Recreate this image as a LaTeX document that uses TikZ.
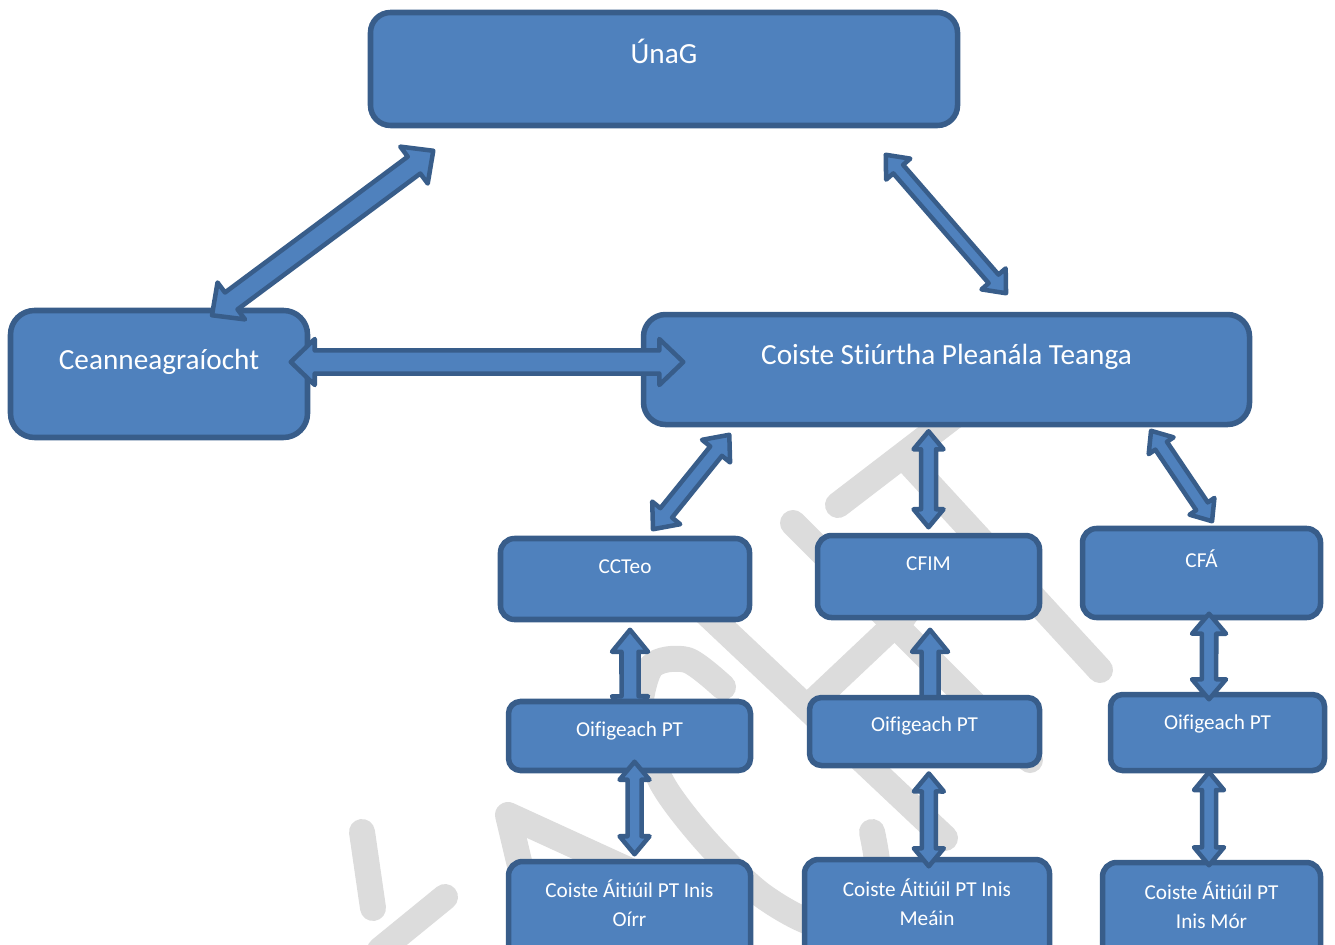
\documentclass[tikz,border=0pt]{standalone}
\usepackage{fontspec}
\setmainfont{Carlito}[Ligatures=NoCommon]
\usetikzlibrary{calc}
\pgfdeclarelayer{background}
\pgfsetlayers{background,main}

\definecolor{boxfill}{RGB}{79,129,189}
\definecolor{boxline}{RGB}{56,93,138}
\definecolor{wmgray}{RGB}{220,220,220}

\tikzset{
  box/.style={draw=boxline,fill=boxfill,line width=0.138cm,rounded corners=#1,
    text=white,inner sep=0pt,align=center,text height=0.3cm},
  box/.default=0.35cm,
  big/.style={font=\fontsize{20.8}{25}\selectfont},
  small/.style={font=\fontsize{15.1}{21}\selectfont},
  blockarrow/.style={draw=boxline,fill=boxfill,line width=0.113cm,line join=round},
  wmark/.style={draw=wmgray,line width=0.65cm,line cap=round,line join=round}
}

% block arrow with two heads: tip, tip, head half width, shaft half width, head length
\newcommand\dblarrow[5]{%
  \draw[blockarrow] (#1)
    -- ($(#1)!#5!(#2)!#3!90:(#2)$)
    -- ($(#1)!#5!(#2)!#4!90:(#2)$)
    -- ($(#2)!#5!(#1)!#4!-90:(#1)$)
    -- ($(#2)!#5!(#1)!#3!-90:(#1)$)
    -- (#2)
    -- ($(#2)!#5!(#1)!#3!90:(#1)$)
    -- ($(#2)!#5!(#1)!#4!90:(#1)$)
    -- ($(#1)!#5!(#2)!#4!-90:(#2)$)
    -- ($(#1)!#5!(#2)!#3!-90:(#2)$)
    -- cycle;}

\begin{document}
\begin{tikzpicture}
\useasboundingbox (0,0) rectangle (33.375,-23.625);
\clip (0,0) rectangle (33.375,-23.625);

% boxes
\node[box=0.5cm,big,minimum width=14.675cm,minimum height=2.825cm,text depth=0.575cm] (unag) at (16.600,-1.725) {ÚnaG};
\node[box=0.6cm,big,minimum width=7.425cm,minimum height=3.175cm,text depth=0.530cm] (ceann) at (3.975,-9.350) {Ceanneagraíocht};
\node[box=0.55cm,big,minimum width=15.150cm,minimum height=2.750cm,text depth=0.555cm] (coiste) at (23.663,-9.238) {Coiste Stiúrtha Pleanála Teanga};
\node[box,small,minimum width=6.225cm,minimum height=2.025cm,text depth=0.560cm] (ccteo) at (15.625,-14.475) {CCTeo};
\node[box,small,minimum width=5.550cm,minimum height=2.050cm,text depth=0.585cm] (cfim) at (23.213,-14.413) {CFIM};
\node[box,small,minimum width=5.950cm,minimum height=2.225cm,text depth=0.600cm] (cfa) at (30.038,-14.325) {CFÁ};
\node[box=0.3cm,small,minimum width=6.050cm,minimum height=1.725cm,text depth=0.260cm] (oif1) at (15.738,-18.400) {Oifigeach PT};
\node[box=0.3cm,small,minimum width=5.750cm,minimum height=1.700cm,text depth=0.285cm] (oif2) at (23.113,-18.288) {Oifigeach PT};
\node[box=0.3cm,small,minimum width=5.350cm,minimum height=1.900cm,text depth=0.435cm] (oif3) at (30.438,-18.313) {Oifigeach PT};
\node[box,small,minimum width=6.050cm,minimum height=2.750cm,text height=0.9cm,text depth=0.385cm] (oirr) at (15.738,-22.913) {Coiste Áitiúil PT Inis\\Oírr};
\node[box,small,minimum width=6.125cm,minimum height=2.750cm,text height=0.9cm,text depth=0.335cm] (meain) at (23.175,-22.863) {Coiste Áitiúil PT Inis\\Meáin};
\node[box,small,minimum width=5.450cm,minimum height=2.750cm,text height=0.9cm,text depth=0.335cm] (mor) at (30.288,-22.938) {Coiste Áitiúil PT\\Inis Mór};

% arrow tips
\coordinate (unagL) at ($(unag.south west)+(1.638,-0.563)$);
\coordinate (ceannT) at ($(ceann.north)+(1.325,-0.188)$);
\coordinate (unagR) at ($(unag.south east)+(-1.863,-0.663)$);
\coordinate (coisteT) at ($(coiste.north)+(1.488,0.463)$);
\coordinate (ceannR) at ($(ceann.east)+(-0.488,0.300)$);
\coordinate (coisteL) at ($(coiste.west)+(1.063,0.188)$);
\coordinate (coisteB1) at ($(coiste.south west)+(2.213,-0.188)$);
\coordinate (ccteoT) at ($(ccteo.north)+(0.700,0.163)$);
\coordinate (coisteB2) at ($(coiste.south)+(-0.450,-0.100)$);
\coordinate (cfimT) at ($(cfim.north)+(0,0.138)$);
\coordinate (coisteB3) at ($(coiste.south)+(5.113,-0.088)$);
\coordinate (cfaT) at ($(cfa.north)+(0.263,0.113)$);
\coordinate (ccteoB) at ($(ccteo.south)+(0.125,-0.188)$);
\coordinate (oif1T) at ($(oif1.north)+(0.013,-0.488)$);
\coordinate (cfimB) at ($(cfim.south)+(0.038,-0.238)$);
\coordinate (oif2T) at ($(oif2.north)+(0.138,-1.188)$);
\coordinate (cfaB) at ($(cfa.south)+(0.188,0.163)$);
\coordinate (oif3T) at ($(oif3.north)+(-0.213,-0.188)$);
\coordinate (oif1B) at ($(oif1.south)+(0.125,0.288)$);
\coordinate (oirrT) at ($(oirr.north)+(0.125,0.113)$);
\coordinate (oif2B) at ($(oif2.south)+(0.108,-0.130)$);
\coordinate (meainT) at ($(meain.north)+(0.045,-0.238)$);
\coordinate (oif3B) at ($(oif3.south)+(-0.213,0.030)$);
\coordinate (morT) at ($(mor.north)+(-0.063,-0.138)$);

\begin{pgfonlayer}{background}
\clip (0,0) rectangle (33.375,-23.625);
% watermark
\draw[wmark] (9.050,-20.800) -- (9.325,-22.700);
\draw[wmark] (11.125,-22.425) -- (9.500,-23.750);
\draw[wmark] (16.250,-22.000) -- (12.700,-20.375) -- (13.500,-23.750);
\draw[wmark] plot[smooth] coordinates {(18.075,-17.175) (17.175,-16.500) (16.275,-16.675) (16.000,-18.000) (16.550,-19.575) (17.625,-21.000) (18.975,-22.325) (20.300,-23.075) (21.500,-23.125) (21.950,-22.000) (21.800,-20.800)};
\draw[wmark] (17.500,-15.175) -- (23.625,-20.950);
\draw[wmark] (19.825,-13.075) -- (25.750,-19.000);
\draw[wmark] (20.375,-17.500) -- (22.625,-15.375);
\draw[wmark] (20.950,-12.625) -- (24.375,-10.000);
\draw[wmark] (22.625,-11.450) -- (27.500,-16.750);
% arrows whose lower end sits under a box
\dblarrow{ccteoB}{oif1T}{0.45cm}{0.213cm}{0.55cm}
\dblarrow{cfimB}{oif2T}{0.45cm}{0.213cm}{0.55cm}
\end{pgfonlayer}

% arrows
\dblarrow{unagL}{ceannT}{0.575cm}{0.263cm}{0.6cm}
\dblarrow{unagR}{coisteT}{0.4cm}{0.163cm}{0.475cm}
\dblarrow{ceannR}{coisteL}{0.575cm}{0.288cm}{0.6cm}
\dblarrow{coisteB1}{ccteoT}{0.45cm}{0.188cm}{0.525cm}
\dblarrow{coisteB2}{cfimT}{0.375cm}{0.188cm}{0.45cm}
\dblarrow{coisteB3}{cfaT}{0.375cm}{0.175cm}{0.45cm}
\dblarrow{cfaB}{oif3T}{0.425cm}{0.18cm}{0.5cm}
\dblarrow{oif1B}{oirrT}{0.375cm}{0.175cm}{0.45cm}
\dblarrow{oif2B}{meainT}{0.375cm}{0.175cm}{0.45cm}
\dblarrow{oif3B}{morT}{0.375cm}{0.175cm}{0.45cm}
\end{tikzpicture}
\end{document}
